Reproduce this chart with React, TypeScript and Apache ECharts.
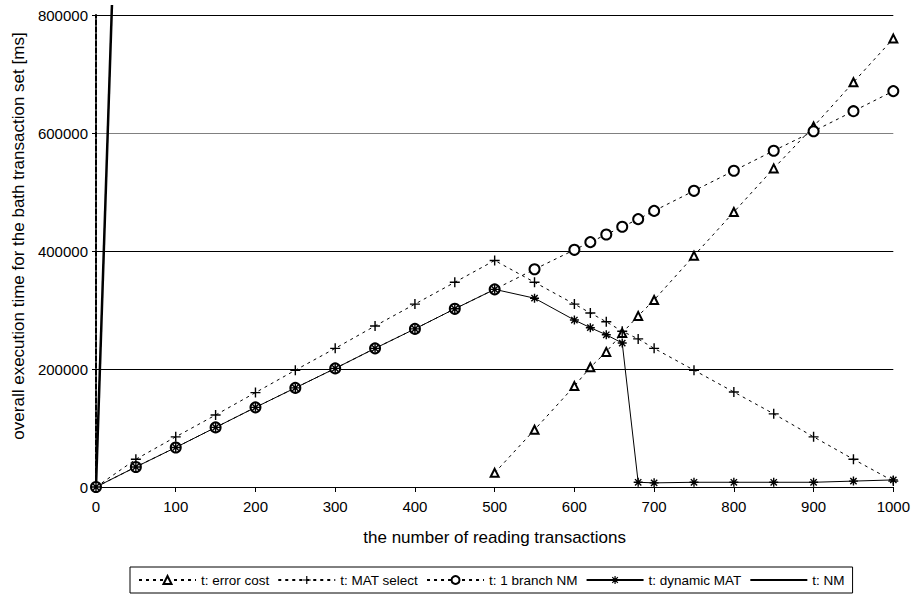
import React, { useEffect, useRef } from "react";
import * as echarts from "echarts";

const xValues = [0, 50, 100, 150, 200, 250, 300, 350, 400, 450, 500, 550, 600, 620, 640, 660, 680, 700, 750, 800, 850, 900, 950, 1000];
const errorCostX = [500, 550, 600, 620, 640, 660, 680, 700, 750, 800, 850, 900, 950, 1000];
const errorCost = [24000, 97000, 171000, 203000, 229000, 261000, 290000, 317000, 392000, 466000, 540000, 611000, 686000, 760000];
const matSelect = [0, 47000, 85000, 122000, 160000, 198000, 235000, 273000, 310000, 347000, 384000, 347000, 310000, 295000, 280000, 264000, 251000, 235000, 198000, 161000, 124000, 85000, 47000, 10000];
const oneBranchNM = [0, 34000, 67000, 101000, 135000, 168000, 201000, 235000, 268000, 302000, 335000, 369000, 402000, 415000, 428000, 441000, 454000, 468000, 502000, 536000, 570000, 603000, 637000, 671000];
const dynamicMAT = [0, 34000, 67000, 101000, 135000, 168000, 201000, 235000, 268000, 302000, 335000, 320000, 283000, 270000, 258000, 244000, 8000, 7000, 8000, 8000, 8000, 8000, 10000, 12000];
const nmX = [0, 20];
const nm = [0, 817000];

const seriesNames = ["t: error cost", "t: MAT select", "t: 1 branch NM", "t: dynamic MAT", "t: NM"];
const xTitle = "the number of reading transactions";
const yTitle = "overall execution time for the bath transaction set [ms]";

const FONT = "'Liberation Sans', Arial, sans-serif";
const pair = (xs: number[], ys: number[]) => xs.map((x, i) => [x, ys[i]]);

const PLUS = "path://M0,5L10,5M5,0L5,10";
const ASTER = "path://M0,5L10,5M5,0L5,10M1.5,1.5L8.5,8.5M8.5,1.5L1.5,8.5";

export default function App() {
  const ref = useRef<HTMLDivElement>(null);
  useEffect(() => {
    const chart = echarts.init(ref.current!, null, { renderer: "svg" });
    const dashed = { color: "#000", width: 1, type: [3, 4] as any };
    const markerStyle = { color: "#000", borderColor: "#000", borderWidth: 1.4 };
    chart.setOption({
      animation: false,
      backgroundColor: "#fff",
      textStyle: { fontFamily: FONT, color: "#000" },
      grid: { left: 96, right: 16, top: 15, bottom: 107, containLabel: false },
      xAxis: {
        type: "value",
        min: 0,
        max: 1000,
        interval: 100,
        name: xTitle,
        nameLocation: "middle",
        nameGap: 42,
        nameTextStyle: { fontSize: 17, color: "#000", fontFamily: FONT },
        axisLine: { show: true, lineStyle: { color: "#000", width: 1 } },
        axisTick: { show: true, length: 5, lineStyle: { color: "#000" } },
        axisLabel: { fontSize: 15, color: "#000", margin: 12, fontFamily: FONT, formatter: (v: number) => String(v) },
        splitLine: { show: false },
      },
      yAxis: {
        type: "value",
        min: 0,
        max: 800000,
        interval: 200000,
        axisLine: { show: true, lineStyle: { color: "#000", width: 2, type: [5, 2] as any } },
        axisTick: { show: true, length: 4, lineStyle: { color: "#000" } },
        axisLabel: { fontSize: 15, color: "#000", margin: 8, fontFamily: FONT, formatter: (v: number) => String(v) },
        splitLine: { show: true, lineStyle: { color: ["#000", "#000", "#000", "#808080", "#000"], width: 1 } },
      },
      legend: {
        left: 130,
        top: 567,
        orient: "horizontal",
        padding: [6, 8],
        itemGap: 8,
        itemWidth: 57,
        itemHeight: 10,
        borderColor: "#000",
        borderWidth: 1,
        textStyle: { fontSize: 13.5, color: "#000", fontFamily: FONT },
        data: [
          seriesNames[0],
          { name: seriesNames[1], itemStyle: { color: "#000", borderColor: "#000", borderWidth: 1.2 } },
          seriesNames[2],
          { name: seriesNames[3], itemStyle: { color: "#000", borderColor: "#000", borderWidth: 1.2 } },
          { name: seriesNames[4], itemStyle: { color: "transparent", borderColor: "transparent", opacity: 0 } },
        ],
      },
      graphic: [
        {
          type: "text",
          x: 18,
          y: 236,
          rotation: Math.PI / 2,
          style: { text: yTitle, font: `17px ${FONT}`, fill: "#000", align: "center", verticalAlign: "middle" },
        },
      ],
      series: [
        {
          name: seriesNames[0],
          type: "line",
          data: pair(errorCostX, errorCost),
          symbol: "emptyTriangle",
          symbolSize: 8,
          lineStyle: dashed,
          itemStyle: { color: "#000", borderWidth: 1 },
        },
        {
          name: seriesNames[1],
          type: "line",
          data: pair(xValues, matSelect),
          symbol: PLUS,
          symbolSize: 10,
          lineStyle: dashed,
          itemStyle: markerStyle,
        },
        {
          name: seriesNames[2],
          type: "line",
          data: pair(xValues, oneBranchNM),
          symbol: "emptyCircle",
          symbolSize: 10,
          lineStyle: dashed,
          itemStyle: { color: "#000", borderWidth: 1 },
        },
        {
          name: seriesNames[3],
          type: "line",
          data: pair(xValues, dynamicMAT),
          symbol: ASTER,
          symbolSize: 9,
          lineStyle: { color: "#000", width: 1, type: "solid" },
          itemStyle: markerStyle,
        },
        {
          name: seriesNames[4],
          type: "line",
          data: pair(nmX, nm),
          symbol: "none",
          clip: false,
          lineStyle: { color: "#000", width: 2.5, type: "solid" },
          itemStyle: { color: "#000" },
        },
      ],
    });
    return () => chart.dispose();
  }, []);
  return (
    <div
      ref={ref}
      style={{ position: "fixed", left: 0, top: 0, width: 913, height: 594, background: "#fff" }}
    />
  );
}
